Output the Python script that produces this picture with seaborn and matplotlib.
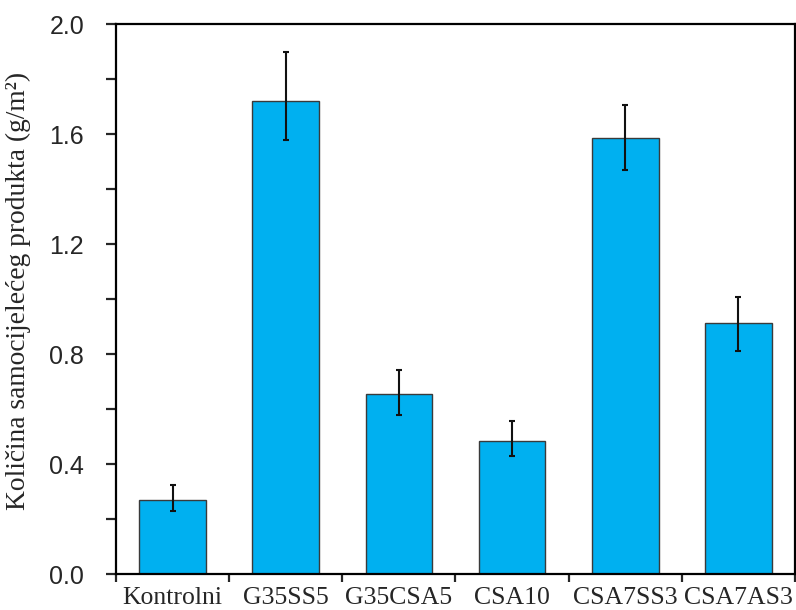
import numpy as np
import pandas as pd
import matplotlib
matplotlib.use("Agg")
import matplotlib.pyplot as plt
import seaborn as sns
from matplotlib.ticker import MultipleLocator

categories = ["Kontrolni", "G35SS5", "G35CSA5", "CSA10", "CSA7SS3", "CSA7AS3"]
values = [0.269, 1.720, 0.655, 0.484, 1.585, 0.912]
err_low = [0.229, 1.578, 0.578, 0.429, 1.469, 0.810]
err_high = [0.324, 1.897, 0.742, 0.556, 1.705, 1.008]
y_ticks = [0.0, 0.4, 0.8, 1.2, 1.6, 2.0]

sns.set_style("white")
plt.rcParams["font.family"] = ["Liberation Sans", "DejaVu Sans"]

df = pd.DataFrame({"cat": categories, "val": values})

fig = plt.figure(figsize=(7.96, 6.10), dpi=100)
ax = fig.add_axes([116/796, 1-574/610, (795-116)/796, (574-24)/610])

sns.barplot(data=df, x="cat", y="val", color="#00B0F0", saturation=1,
            width=0.59, errorbar=None, edgecolor="#3a3a3a", linewidth=1.0, ax=ax)

x = np.arange(len(categories))
v = np.array(values)
yerr = np.vstack([v - np.array(err_low), np.array(err_high) - v])
ax.errorbar(x, v, yerr=yerr, fmt="none", ecolor="#111111", elinewidth=1.5,
            capsize=2.5, capthick=1.5, zorder=5)

ax.set_xlim(-0.5, len(categories) - 0.5)
ax.set_ylim(0, 2.0)
ax.set_yticks(y_ticks)
ax.set_yticklabels([f"{t:.1f}" for t in y_ticks], fontsize=18)
ax.yaxis.set_minor_locator(MultipleLocator(0.2))

ax.set_xticks(np.arange(-0.5, len(categories), 1.0))
ax.set_xticklabels([""] * (len(categories) + 1))
ax.set_xticks(x, minor=True)
ax.set_xticklabels(categories, minor=True, fontsize=18.5, family="Liberation Serif")
ax.tick_params(axis="x", which="minor", length=0, pad=9)
ax.tick_params(axis="x", which="major", direction="out", length=6, width=1.6, bottom=True)
ax.tick_params(axis="y", which="major", direction="out", length=7, width=1.6, left=True, pad=16)
ax.tick_params(axis="y", which="minor", direction="out", length=7, width=1.6, left=True)

for s in ax.spines.values():
    s.set_visible(True)
    s.set_color("black")
    s.set_linewidth(1.6)

ax.set_xlabel("")
ax.set_ylabel("Količina samocijelećeg produkta (g/m²)", fontsize=19.8,
              family="Liberation Serif")
ax.yaxis.set_label_coords((31 - 116) / 679, (574 - 291) / 550)

fig.savefig("out.png", dpi=100)
